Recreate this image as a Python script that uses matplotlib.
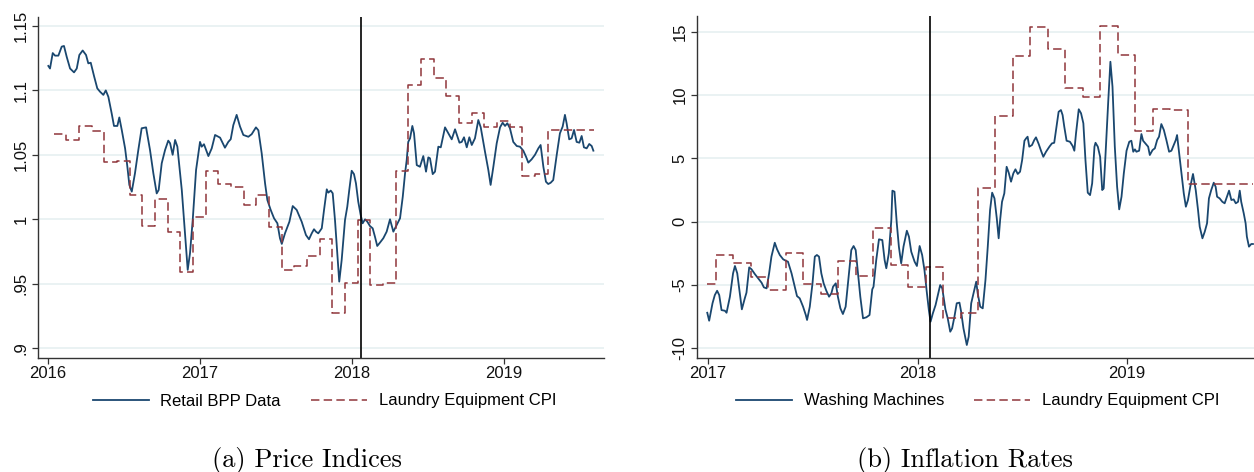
import numpy as np
import matplotlib
matplotlib.use("Agg")
import matplotlib.pyplot as plt

plt.rcParams["font.family"] = ["Liberation Sans", "DejaVu Sans"]
plt.rcParams["axes.unicode_minus"] = False

NAVY = "#1a476f"
MAROON = "#90353b"
GRID = "#eaf2f3"
TARIFF_DATE = 2018.058  # Jan 22, 2018

# ---- panel (a): price indices (retail BPP data, weekly) ----
bpp_t = [2016.002, 2016.013, 2016.031, 2016.046, 2016.068, 2016.090, 2016.105, 2016.123, 2016.145, 2016.171,
         2016.189, 2016.206, 2016.228, 2016.250, 2016.265, 2016.281, 2016.303, 2016.324, 2016.342, 2016.364,
         2016.380, 2016.397, 2016.419, 2016.434, 2016.456, 2016.469, 2016.485, 2016.507, 2016.522, 2016.535,
         2016.551, 2016.572, 2016.594, 2016.616, 2016.645, 2016.671, 2016.693, 2016.715, 2016.728, 2016.748,
         2016.770, 2016.791, 2016.803, 2016.820, 2016.836, 2016.851, 2016.880, 2016.901, 2016.919, 2016.934,
         2016.952, 2016.974, 2017.000, 2017.011, 2017.026, 2017.055, 2017.077, 2017.099, 2017.132, 2017.164,
         2017.186, 2017.202, 2017.219, 2017.241, 2017.263, 2017.285, 2017.318, 2017.340, 2017.368, 2017.384,
         2017.406, 2017.428, 2017.443, 2017.465, 2017.487, 2017.509, 2017.526, 2017.538, 2017.559, 2017.588,
         2017.610, 2017.636, 2017.669, 2017.697, 2017.717, 2017.735, 2017.750, 2017.763, 2017.778, 2017.801,
         2017.816, 2017.834, 2017.844, 2017.860, 2017.873, 2017.888, 2017.903, 2017.916, 2017.932, 2017.954,
         2017.969, 2017.982, 2017.998, 2018.013, 2018.026, 2018.041, 2018.057, 2018.070, 2018.086, 2018.101,
         2018.118, 2018.136, 2018.151, 2018.166, 2018.184, 2018.206, 2018.228, 2018.250, 2018.272, 2018.294,
         2018.316, 2018.334, 2018.349, 2018.360, 2018.370, 2018.382, 2018.397, 2018.408, 2018.426, 2018.447,
         2018.469, 2018.487, 2018.502, 2018.513, 2018.531, 2018.546, 2018.568, 2018.584, 2018.612, 2018.634,
         2018.656, 2018.678, 2018.707, 2018.722, 2018.737, 2018.755, 2018.772, 2018.788, 2018.809, 2018.831,
         2018.847, 2018.875, 2018.897, 2018.912, 2018.930, 2018.952, 2018.974, 2018.991, 2019.007, 2019.022,
         2019.039, 2019.061, 2019.084, 2019.105, 2019.127, 2019.145, 2019.160, 2019.182, 2019.204, 2019.226,
         2019.241, 2019.259, 2019.276, 2019.291, 2019.307, 2019.324, 2019.347, 2019.368, 2019.386, 2019.401,
         2019.412, 2019.429, 2019.445, 2019.461, 2019.478, 2019.496, 2019.511, 2019.526, 2019.544, 2019.561,
         2019.577, 2019.588]
bpp_index = [1.119, 1.117, 1.129, 1.127, 1.127, 1.134, 1.1345, 1.126, 1.117, 1.114,
             1.117, 1.1275, 1.131, 1.1275, 1.121, 1.1215, 1.111, 1.1016, 1.099, 1.0965,
             1.100, 1.095, 1.082, 1.0724, 1.0724, 1.079, 1.0693, 1.055, 1.0407, 1.0266,
             1.0214, 1.0356, 1.0537, 1.0706, 1.0713, 1.0537, 1.0356, 1.020, 1.0227, 1.0434,
             1.0537, 1.061, 1.059, 1.050, 1.0615, 1.0563, 1.0227, 0.989, 0.9606, 0.9735,
             0.9994, 1.0382, 1.060, 1.0563, 1.0582, 1.049, 1.055, 1.0654, 1.0633, 1.0555,
             1.060, 1.0621, 1.073, 1.081, 1.072, 1.0654, 1.064, 1.066, 1.0713, 1.069,
             1.051, 1.0278, 1.0149, 1.0072, 1.0007, 0.9968, 0.9852, 0.9808, 0.989, 0.998,
             1.0102, 1.0072, 0.998, 0.9877, 0.9844, 0.989, 0.9922, 0.9903, 0.989, 0.9929,
             1.0072, 1.0232, 1.0206, 1.0222, 1.0201, 0.9994, 0.9735, 0.9515, 0.9683, 0.9994,
             1.0097, 1.0227, 1.0376, 1.035, 1.0278, 1.0136, 1.0033, 0.9968, 0.9999, 0.998,
             0.9947, 0.9929, 0.9864, 0.9792, 0.9818, 0.9852, 0.9903, 0.9999, 0.9903, 0.9955,
             1.0007, 1.0175, 1.0356, 1.046, 1.060, 1.0628, 1.0724, 1.0667, 1.042, 1.0407,
             1.049, 1.0369, 1.048, 1.0473, 1.035, 1.0369, 1.0563, 1.0558, 1.0713, 1.0667,
             1.062, 1.0698, 1.0594, 1.060, 1.0636, 1.0558, 1.0636, 1.0576, 1.0628, 1.077,
             1.0713, 1.0524, 1.0382, 1.0266, 1.0407, 1.0589, 1.0713, 1.0749, 1.0724, 1.0745,
             1.0706, 1.060, 1.0568, 1.0563, 1.0532, 1.0485, 1.0439, 1.0465, 1.050, 1.055,
             1.0576, 1.0407, 1.0291, 1.0273, 1.0283, 1.0304, 1.050, 1.0667, 1.0719, 1.081,
             1.0745, 1.062, 1.0628, 1.0693, 1.060, 1.0594, 1.0646, 1.0558, 1.055, 1.0584,
             1.0568, 1.0532]

# laundry equipment CPI, monthly, Jan 2016 - Jul 2019
cpi_index = [1.0659, 1.0615, 1.0724, 1.0685, 1.0442, 1.0454, 1.019, 0.9947, 1.0155, 0.9898, 0.9592, 1.002,
             1.0376, 1.0273, 1.025, 1.011, 1.0188, 0.9942, 0.9606, 0.9637, 0.9714, 0.9844, 0.9274, 0.9502,
             0.9994, 0.9489, 0.9507, 1.0376, 1.1042, 1.1241, 1.1094, 1.0957, 1.0749, 1.0822, 1.0718, 1.0765,
             1.0718, 1.0335, 1.0351, 1.0693, 1.0693, 1.0693, 1.0693]
cpi_index_start = 2016.038  # mid-January 2016
cpi_index_end = 2019.59

# ---- panel (b): inflation rates (washing machines, weekly) ----
wm_t = [2016.997, 2017.006, 2017.022, 2017.033, 2017.044, 2017.054, 2017.065, 2017.081, 2017.089, 2017.105,
        2017.120, 2017.129, 2017.140, 2017.152, 2017.162, 2017.176, 2017.184, 2017.197, 2017.208, 2017.224,
        2017.240, 2017.256, 2017.267, 2017.280, 2017.292, 2017.303, 2017.319, 2017.330, 2017.343, 2017.359,
        2017.371, 2017.382, 2017.399, 2017.414, 2017.425, 2017.438, 2017.454, 2017.467, 2017.473, 2017.486,
        2017.499, 2017.510, 2017.520, 2017.530, 2017.541, 2017.552, 2017.565, 2017.578, 2017.589, 2017.597,
        2017.610, 2017.620, 2017.632, 2017.644, 2017.657, 2017.673, 2017.684, 2017.695, 2017.705, 2017.716,
        2017.727, 2017.740, 2017.756, 2017.771, 2017.784, 2017.790, 2017.803, 2017.816, 2017.832, 2017.843,
        2017.851, 2017.863, 2017.875, 2017.880, 2017.890, 2017.901, 2017.911, 2017.922, 2017.933, 2017.949,
        2017.959, 2017.970, 2017.986, 2017.997, 2018.010, 2018.022, 2018.033, 2018.044, 2018.054, 2018.062,
        2018.073, 2018.086, 2018.097, 2018.108, 2018.118, 2018.124, 2018.133, 2018.144, 2018.156, 2018.165,
        2018.176, 2018.187, 2018.200, 2018.208, 2018.219, 2018.235, 2018.244, 2018.256, 2018.267, 2018.280,
        2018.287, 2018.299, 2018.311, 2018.324, 2018.335, 2018.346, 2018.356, 2018.367, 2018.378, 2018.387,
        2018.394, 2018.403, 2018.414, 2018.425, 2018.435, 2018.446, 2018.457, 2018.467, 2018.478, 2018.489,
        2018.499, 2018.510, 2018.518, 2018.525, 2018.533, 2018.546, 2018.557, 2018.565, 2018.578, 2018.589,
        2018.600, 2018.613, 2018.629, 2018.641, 2018.652, 2018.663, 2018.673, 2018.684, 2018.692, 2018.700,
        2018.711, 2018.727, 2018.740, 2018.748, 2018.756, 2018.769, 2018.780, 2018.791, 2018.801, 2018.812,
        2018.823, 2018.833, 2018.844, 2018.849, 2018.860, 2018.871, 2018.881, 2018.888, 2018.897, 2018.910,
        2018.920, 2018.930, 2018.941, 2018.952, 2018.962, 2018.973, 2018.984, 2018.997, 2019.010, 2019.020,
        2019.029, 2019.037, 2019.044, 2019.057, 2019.068, 2019.076, 2019.089, 2019.100, 2019.108, 2019.121,
        2019.132, 2019.143, 2019.152, 2019.163, 2019.175, 2019.187, 2019.200, 2019.211, 2019.222, 2019.232,
        2019.238, 2019.248, 2019.259, 2019.270, 2019.280, 2019.290, 2019.301, 2019.314, 2019.327, 2019.338,
        2019.346, 2019.359, 2019.370, 2019.381, 2019.390, 2019.401, 2019.413, 2019.422, 2019.429, 2019.441,
        2019.454, 2019.465, 2019.473, 2019.486, 2019.497, 2019.508, 2019.518, 2019.529, 2019.537, 2019.544,
        2019.556, 2019.565, 2019.571, 2019.581, 2019.592, 2019.600]
wm_infl = [-7.21, -7.84, -6.46, -5.81, -5.47, -5.81, -7.0, -7.05, -7.21, -5.94,
           -4.09, -3.51, -4.09, -5.67, -6.94, -6.07, -5.62, -3.62, -3.77, -4.15,
           -4.49, -4.83, -5.2, -5.28, -4.09, -2.77, -1.67, -2.19, -2.64, -2.98,
           -3.09, -3.17, -4.09, -5.15, -5.89, -6.07, -6.73, -7.39, -7.78, -6.73,
           -4.88, -2.77, -2.64, -2.77, -4.09, -4.88, -5.47, -5.94, -5.67, -5.15,
           -4.88, -5.94, -6.86, -7.31, -6.73, -4.09, -2.25, -1.93, -2.25, -4.09,
           -5.94, -7.65, -7.57, -7.39, -5.36, -5.15, -3.04, -1.4, -1.46, -3.04,
           -3.69, -2.51, 0.13, 2.45, 2.37, -0.13, -1.98, -3.30, -1.98, -0.72,
           -1.19, -2.38, -3.17, -3.51, -1.93, -2.64, -3.83, -5.55, -7.0, -7.92,
           -7.26, -6.6, -5.81, -5.02, -5.28, -5.94, -6.94, -7.65, -8.71, -8.44,
           -7.52, -6.46, -6.41, -7.13, -8.44, -9.76, -9.1, -6.46, -5.67, -4.75,
           -5.67, -6.73, -6.86, -4.62, -1.98, 0.92, 2.29, 1.84, 0.26, -1.32,
           0.13, 1.57, 2.24, 4.34, 3.87, 3.16, 3.82, 4.14, 3.77, 3.95,
           4.87, 6.4, 6.59, 6.72, 5.93, 6.06, 6.46, 6.67, 6.14, 5.61,
           5.13, 5.53, 5.93, 6.19, 6.24, 7.51, 8.69, 8.83, 8.43, 7.51,
           6.40, 6.32, 5.98, 5.61, 6.99, 8.89, 8.57, 7.78, 4.87, 2.29,
           2.10, 3.03, 5.93, 6.24, 5.93, 5.13, 2.5, 2.63, 5.40, 9.62,
           12.65, 10.67, 5.93, 2.76, 0.97, 1.97, 3.82, 5.61, 6.32, 6.40,
           5.53, 5.72, 5.53, 5.61, 6.93, 6.40, 6.14, 5.93, 5.27, 5.66,
           5.80, 6.46, 6.72, 7.72, 7.25, 6.46, 5.53, 5.61, 6.06, 6.46,
           6.85, 5.40, 3.82, 2.24, 1.18, 1.71, 2.76, 3.77, 2.50, 0.92,
           -0.40, -1.32, -0.80, -0.13, 1.84, 2.50, 3.08, 2.76, 1.97, 1.84,
           1.57, 1.45, 1.84, 2.45, 1.71, 1.76, 1.45, 1.57, 2.45, 1.57,
           0.66, -0.13, -1.19, -1.98, -1.77, -1.77]

# laundry equipment CPI inflation, monthly, Dec 2016 - Jul 2019
cpi_infl = [-4.96,
            -2.64, -3.25, -4.41, -5.41, -2.46, -4.94, -5.73, -3.09, -4.30, -0.53, -3.43, -5.2,
            -3.62, -7.6, -7.26, 2.63, 8.38, 13.13, 15.42, 13.63, 10.59, 9.88, 15.5, 13.2,
            7.19, 8.88, 8.83, 2.97, 2.97, 2.97, 2.97]
cpi_infl_start = 2016.955  # mid-December 2016
cpi_infl_end = 2019.60


def monthly_steps(values, start, end, clip_from=None):
    x = start + np.arange(len(values)) / 12.0
    if clip_from is not None:
        x = np.maximum(x, clip_from)
    x = np.append(x, end)
    y = np.append(values, values[-1])
    return x, y


def style_axis(ax, yticks, ylabels, xticks):
    for s in ["top", "right"]:
        ax.spines[s].set_visible(False)
    for s in ["left", "bottom"]:
        ax.spines[s].set_color("#333333")
        ax.spines[s].set_linewidth(1.0)
    ax.set_yticks(yticks)
    ax.set_yticklabels(ylabels, rotation=90, va="center")
    ax.set_xticks(xticks)
    ax.set_xticklabels([str(t) for t in xticks])
    ax.tick_params(axis="both", direction="out", length=4.5, width=0.9, color="#333333",
                   labelsize=12, labelcolor="#111111")
    ax.tick_params(axis="y", pad=2.5)
    ax.tick_params(axis="x", pad=1.5)
    ax.yaxis.grid(True, color=GRID, linewidth=1.4)
    ax.set_axisbelow(True)


fig = plt.figure(figsize=(12.54, 4.72), dpi=100)

# panel (a)
ax1 = fig.add_axes([38 / 1254, 1 - 358 / 472, (604 - 38) / 1254, (358 - 17) / 472])
ax1.plot(bpp_t, bpp_index, color=NAVY, lw=1.3, label="Retail BPP Data")
xs, ys = monthly_steps(cpi_index, cpi_index_start, cpi_index_end)
ax1.plot(xs, ys, color=MAROON, lw=1.1, drawstyle="steps-post", dashes=(5.5, 2.8),
         label="Laundry Equipment CPI")
ax1.axvline(TARIFF_DATE, color="black", lw=1.2)
ax1.set_xlim(2015.934, 2019.658)
ax1.set_ylim(0.8922, 1.157)
style_axis(ax1, [0.9, 0.95, 1.0, 1.05, 1.1, 1.15], [".9", ".95", "1", "1.05", "1.1", "1.15"],
           [2016, 2017, 2018, 2019])

# panel (b)
ax2 = fig.add_axes([697 / 1254, 1 - 358 / 472, (1254 - 697) / 1254, (358 - 16) / 472])
ax2.plot(wm_t, wm_infl, color=NAVY, lw=1.3, label="Washing Machines")
xs, ys = monthly_steps(cpi_infl, cpi_infl_start, cpi_infl_end, clip_from=wm_t[0])
ax2.plot(xs, ys, color=MAROON, lw=1.1, drawstyle="steps-post", dashes=(5.5, 2.8),
         label="Laundry Equipment CPI")
ax2.axvline(TARIFF_DATE, color="black", lw=1.2)
ax2.set_xlim(2016.948, 2019.605)
ax2.set_ylim(-10.79, 16.27)
style_axis(ax2, [-10, -5, 0, 5, 10, 15], ["-10", "-5", "0", "5", "10", "15"], [2017, 2018, 2019])

# legends below each panel
for ax, cx in [(ax1, 324.5 / 1254), (ax2, 977.5 / 1254)]:
    ax.legend(loc="center", bbox_to_anchor=(cx, 1 - 401 / 472), bbox_transform=fig.transFigure,
              ncol=2, frameon=False, fontsize=12, handlelength=3.35, handletextpad=0.72,
              columnspacing=1.8)

# subfigure captions
fig.text(307 / 1254, 1 - 461 / 472, "(a) Price Indices", fontfamily="cmr10", fontsize=19,
         ha="center", va="center")
fig.text(965 / 1254, 1 - 461 / 472, "(b) Inflation Rates", fontfamily="cmr10", fontsize=19,
         ha="center", va="center")

fig.savefig("out.png", dpi=100, facecolor="white")
